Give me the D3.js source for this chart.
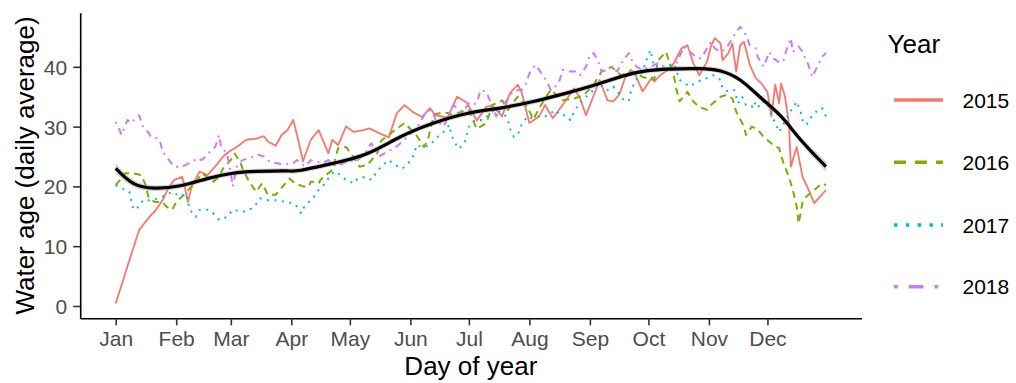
<!DOCTYPE html>
<html>
<head>
<meta charset="utf-8">
<script src="https://cdn.jsdelivr.net/npm/d3@7"></script>
<style>
  html, body { margin: 0; padding: 0; background: #fff; }
  svg { display: block; font-family: "Liberation Sans", Arial, sans-serif; }
</style>
</head>
<body>
<svg id="chart" width="1016" height="383"></svg>
<script>
// Daily-average water age by day of year, one series per year
const monthTickDays = [1, 32, 60, 91, 121, 152, 182, 213, 244, 274, 305, 335];
const monthTickLabels = ["Jan", "Feb", "Mar", "Apr", "May", "Jun", "Jul", "Aug", "Sep", "Oct", "Nov", "Dec"];
const yTicks = [0, 10, 20, 30, 40];
const years = ["2015", "2016", "2017", "2018"];

const days2015 = [1, 7, 13, 19, 21, 25, 28, 31, 35, 36, 38, 40, 44, 48, 52, 56, 59, 63, 68, 73, 77, 79, 83, 86, 89, 92, 94, 97, 101, 105, 110, 112, 115, 119, 123, 128, 131, 136, 141, 145, 149, 153, 158, 162, 165, 171, 176, 181, 186, 191, 194, 199, 203, 207, 209, 213, 218, 221, 225, 230, 236, 239, 242, 245, 249, 253, 256, 259, 262, 265, 267, 271, 276, 277, 280, 285, 287, 291, 294, 297, 300, 304, 306, 308, 311, 312, 315, 317, 319, 321, 323, 326, 329, 332, 335, 337, 339, 341, 342, 344, 346, 347, 350, 353, 355, 359, 362, 365];
const age2015 = [0.4, 6.6, 12.7, 15.2, 15.8, 17.7, 19.7, 21.1, 21.6, 20.5, 17.4, 20.0, 22.5, 21.9, 23.3, 25.0, 25.8, 26.6, 27.8, 28.0, 28.4, 27.5, 26.8, 28.6, 29.4, 31.1, 28.5, 24.2, 27.8, 29.4, 25.5, 27.8, 26.9, 30.0, 29.1, 29.4, 29.7, 28.9, 28.2, 32.2, 33.6, 32.5, 31.6, 33.1, 31.9, 31.5, 35.0, 34.0, 31.0, 33.3, 33.6, 31.7, 35.6, 37.0, 35.8, 30.6, 31.7, 33.6, 31.4, 33.6, 36.4, 34.7, 31.9, 34.4, 37.8, 34.4, 34.2, 35.3, 38.1, 39.5, 38.9, 35.9, 38.3, 37.5, 38.6, 39.7, 40.6, 43.1, 43.6, 40.6, 38.6, 40.8, 43.4, 44.8, 43.9, 41.1, 42.3, 43.9, 39.2, 43.6, 44.2, 40.3, 38.1, 37.2, 35.8, 31.7, 37.0, 33.9, 37.2, 35.0, 30.6, 23.3, 26.6, 21.6, 20.2, 17.2, 18.3, 19.4];

const days2016 = [1, 6, 10, 14, 16, 18, 21, 25, 27, 30, 32, 36, 39, 43, 45, 48, 51, 54, 56, 60, 62, 65, 66, 69, 73, 76, 79, 83, 88, 90, 93, 97, 100, 101, 105, 106, 109, 112, 115, 119, 122, 126, 130, 135, 137, 140, 144, 149, 155, 159, 161, 164, 166, 171, 173, 182, 186, 191, 194, 199, 202, 207, 212, 215, 219, 224, 230, 236, 241, 246, 250, 255, 260, 266, 271, 277, 279, 283, 287, 288, 290, 294, 297, 300, 304, 306, 311, 314, 317, 319, 323, 324, 327, 330, 333, 338, 341, 343, 346, 348, 350, 351, 353, 355, 359, 363, 365];
const age2016 = [20.2, 22.2, 22.2, 21.9, 20.5, 18.0, 17.4, 17.4, 16.6, 16.1, 17.4, 18.6, 19.7, 21.1, 22.2, 21.6, 20.8, 21.6, 23.0, 24.4, 25.5, 23.9, 23.0, 21.0, 19.1, 20.5, 18.6, 18.6, 20.5, 21.3, 20.5, 20.0, 20.0, 20.8, 20.5, 21.1, 22.0, 22.7, 26.4, 26.6, 25.3, 23.3, 23.6, 25.5, 27.6, 28.4, 29.4, 30.6, 28.6, 26.6, 27.8, 31.9, 32.2, 32.3, 32.0, 32.8, 29.6, 30.6, 33.6, 34.4, 32.8, 35.0, 33.3, 31.2, 33.6, 36.2, 34.4, 34.7, 35.3, 37.0, 39.2, 40.0, 38.6, 39.2, 38.3, 37.8, 41.1, 42.5, 38.6, 36.7, 34.2, 35.8, 34.2, 33.3, 32.8, 33.6, 35.0, 35.3, 34.7, 32.5, 30.0, 28.6, 30.0, 29.5, 28.3, 26.9, 26.4, 24.1, 21.6, 19.4, 16.6, 13.8, 17.4, 18.3, 19.4, 20.5, 20.2];

const days2017 = [1, 4, 8, 10, 13, 15, 20, 25, 30, 34, 37, 39, 42, 44, 48, 51, 54, 58, 61, 65, 68, 72, 75, 78, 83, 86, 89, 93, 96, 97, 100, 102, 105, 107, 110, 113, 116, 119, 123, 125, 129, 132, 135, 137, 141, 144, 148, 151, 154, 155, 159, 162, 166, 169, 172, 173, 175, 177, 180, 182, 185, 189, 192, 195, 200, 202, 203, 205, 207, 209, 212, 214, 218, 221, 224, 226, 229, 232, 234, 236, 238, 241, 245, 247, 251, 253, 256, 259, 262, 264, 265, 267, 271, 273, 275, 277, 280, 283, 287, 290, 293, 295, 299, 304, 307, 311, 312, 313, 316, 318, 320, 322, 324, 327, 328, 330, 332, 335, 337, 339, 341, 343, 346, 349, 350, 352, 353, 355, 357, 360, 363, 365];
const age2017 = [20.2, 19.7, 19.1, 16.1, 16.6, 17.7, 17.7, 18.3, 19.1, 18.3, 18.8, 16.1, 14.9, 16.1, 16.1, 15.5, 14.4, 14.9, 16.1, 15.8, 15.8, 16.6, 18.0, 17.7, 17.7, 17.5, 17.4, 17.0, 15.5, 16.3, 17.4, 18.0, 19.4, 20.0, 21.3, 22.5, 21.9, 21.1, 20.5, 21.3, 21.6, 21.1, 22.5, 23.3, 24.4, 23.6, 23.0, 23.9, 25.3, 26.9, 26.6, 26.9, 28.3, 29.1, 30.3, 28.6, 27.2, 26.3, 27.5, 30.0, 31.1, 31.1, 31.9, 32.8, 32.2, 31.1, 29.7, 28.3, 28.6, 30.3, 31.7, 31.4, 31.7, 31.7, 32.2, 32.8, 31.9, 31.9, 31.1, 32.5, 33.6, 34.7, 35.8, 37.2, 36.7, 36.1, 36.7, 35.5, 34.2, 34.4, 35.8, 37.5, 39.2, 41.1, 42.8, 40.0, 39.5, 40.0, 40.6, 37.8, 37.2, 36.7, 37.5, 38.1, 38.6, 37.8, 36.4, 36.1, 35.8, 36.1, 33.9, 35.0, 33.6, 33.3, 34.2, 33.1, 34.2, 33.9, 31.9, 30.6, 29.1, 30.3, 32.2, 33.6, 34.2, 32.5, 31.1, 30.3, 31.4, 32.5, 33.1, 31.7];

const days2018 = [1, 3, 4, 7, 9, 12, 13, 15, 18, 19, 23, 24, 25, 27, 29, 31, 35, 37, 40, 43, 45, 48, 50, 52, 54, 55, 58, 60, 61, 63, 66, 69, 72, 74, 77, 80, 83, 87, 92, 94, 98, 101, 104, 107, 110, 114, 119, 121, 124, 127, 130, 132, 135, 136, 140, 144, 149, 154, 157, 160, 163, 165, 169, 171, 174, 177, 179, 182, 183, 186, 188, 191, 194, 196, 199, 201, 203, 206, 209, 211, 213, 216, 218, 222, 224, 228, 230, 233, 237, 239, 242, 244, 246, 248, 250, 253, 255, 258, 261, 264, 265, 268, 271, 275, 279, 284, 287, 291, 292, 296, 298, 301, 303, 306, 308, 311, 314, 318, 321, 324, 326, 329, 330, 333, 336, 338, 341, 343, 345, 347, 348, 351, 353, 356, 358, 360, 363, 365];
const age2018 = [30.8, 29.4, 28.6, 31.1, 30.6, 31.7, 31.9, 30.0, 28.9, 28.3, 28.0, 27.2, 25.8, 25.0, 24.1, 23.3, 23.3, 23.6, 24.1, 24.7, 24.4, 25.3, 26.1, 26.6, 28.6, 26.6, 25.5, 22.2, 20.0, 23.3, 24.4, 24.7, 25.0, 25.3, 25.0, 24.1, 23.9, 23.7, 23.9, 24.4, 23.3, 24.4, 24.1, 23.9, 24.4, 23.3, 24.1, 24.4, 24.1, 25.0, 26.1, 27.2, 25.5, 25.0, 25.8, 26.4, 27.8, 29.4, 30.6, 32.5, 32.8, 31.1, 30.0, 31.4, 33.6, 32.8, 32.5, 33.9, 33.6, 33.9, 36.1, 35.8, 33.3, 31.7, 33.6, 34.2, 35.3, 36.1, 36.1, 37.0, 38.9, 40.3, 39.5, 37.5, 36.1, 37.2, 39.5, 39.2, 39.2, 38.6, 40.0, 42.0, 42.3, 41.1, 39.2, 39.5, 40.0, 39.2, 41.1, 42.3, 41.4, 40.0, 39.5, 40.0, 40.6, 39.7, 39.5, 42.5, 43.4, 42.3, 41.7, 41.4, 42.5, 44.2, 43.1, 42.5, 43.1, 45.3, 46.7, 45.3, 43.6, 43.1, 41.7, 40.0, 42.5, 41.4, 40.8, 40.8, 43.1, 44.8, 42.5, 43.4, 42.5, 40.3, 38.3, 39.7, 41.7, 42.3];

// Smoothed trend across all years, with its standard error band
const smoothDays = [1, 10, 21, 34, 48, 61, 73, 88, 96, 113, 130, 147, 164, 181, 198, 215, 232, 249, 266, 283, 300, 311, 321, 331, 342, 352, 365];
const smoothAge = [23.0, 20.5, 19.7, 20.1, 21.3, 22.2, 22.5, 22.6, 22.7, 23.9, 25.5, 28.3, 30.6, 32.2, 33.1, 34.2, 35.6, 37.2, 38.9, 39.6, 39.7, 39.3, 37.8, 35.0, 31.7, 27.8, 23.3];
const smoothSe = [0.9, 0.6, 0.5, 0.45, 0.45, 0.45, 0.45, 0.45, 0.45, 0.45, 0.45, 0.45, 0.45, 0.45, 0.45, 0.45, 0.45, 0.45, 0.45, 0.45, 0.45, 0.45, 0.45, 0.5, 0.5, 0.6, 0.9];

const seriesDays = { "2015": days2015, "2016": days2016, "2017": days2017, "2018": days2018 };
const seriesAge = { "2015": age2015, "2016": age2016, "2017": age2017, "2018": age2018 };
const colors = { "2015": "#F8766D", "2016": "#7CAE00", "2017": "#00BFC4", "2018": "#C77CFF" };
const dashPlot = { "2015": null, "2016": "7,5", "2017": "2,5.5", "2018": "2,5,7,5" };
const dashKey = { "2015": null, "2016": "12,9", "2017": "3.5,8.3", "2018": "3.7,11,14.8,11" };

const svg = d3.select("#chart");
const panel = { left: 80.2, right: 861.5, top: 12.7, bottom: 318.3 };

const x = d3.scaleLinear().domain([1 - 18.2, 365 + 18.2]).range([panel.left, panel.right]);
const y = d3.scaleLinear().domain([-2.06, 49.05]).range([panel.bottom, panel.top]);

// Year lines
const line = d3.line().x(d => x(d[0])).y(d => y(d[1]));
years.forEach(yr => {
  const pts = seriesDays[yr].map((d, i) => [d, seriesAge[yr][i]]);
  svg.append("path")
    .attr("d", line(pts))
    .attr("fill", "none")
    .attr("stroke", colors[yr])
    .attr("stroke-width", yr === "2015" ? 1.8 : 2)
    .attr("stroke-linejoin", "round")
    .attr("stroke-dasharray", dashPlot[yr]);
});

// Smoothed trend with confidence band
const smoothPts = smoothDays.map((d, i) => ({ d, v: smoothAge[i], se: smoothSe[i] }));
svg.append("path")
  .attr("d", d3.area().curve(d3.curveNatural)
    .x(p => x(p.d)).y0(p => y(p.v - p.se)).y1(p => y(p.v + p.se))(smoothPts))
  .attr("fill", "#999999").attr("fill-opacity", 0.4);
svg.append("path")
  .attr("d", d3.line().curve(d3.curveNatural).x(p => x(p.d)).y(p => y(p.v))(smoothPts))
  .attr("fill", "none").attr("stroke", "#000").attr("stroke-width", 3.2);

// Axes
const xAxis = svg.append("g").attr("transform", `translate(0,${panel.bottom})`)
  .call(d3.axisBottom(x).tickValues(monthTickDays).tickFormat((d, i) => monthTickLabels[i]).tickSize(7).tickSizeOuter(0).tickPadding(6));
const yAxis = svg.append("g").attr("transform", `translate(${panel.left},0)`)
  .call(d3.axisLeft(y).tickValues(yTicks).tickSize(7).tickSizeOuter(0).tickPadding(6));

[xAxis, yAxis].forEach(g => {
  g.select(".domain").attr("stroke", "#000").attr("stroke-width", 1.6);
  g.selectAll(".tick line").attr("stroke", "#333").attr("stroke-width", 1.6);
  g.selectAll(".tick text").attr("fill", "#4D4D4D").style("font-size", "21px")
    .style("font-family", '"Liberation Sans", Arial, sans-serif');
});
xAxis.selectAll(".tick text").attr("dy", null).attr("y", 27.4);
yAxis.selectAll(".tick text").attr("dy", "0.36em");

// Axis titles
svg.append("text")
  .attr("x", (panel.left + panel.right) / 2).attr("y", 375)
  .attr("text-anchor", "middle").style("font-size", "26px").attr("fill", "#000")
  .text("Day of year");
svg.append("text")
  .attr("transform", `translate(33.5,${(panel.top + panel.bottom) / 2}) rotate(-90)`)
  .attr("text-anchor", "middle").style("font-size", "26px").attr("fill", "#000")
  .text("Water age (daily average)");

// Legend
const legend = svg.append("g");
legend.append("text").attr("x", 887.5).attr("y", 53.3)
  .style("font-size", "26px").attr("fill", "#000").text("Year");
const keyY = [100, 162.3, 225, 286.7];
years.forEach((yr, i) => {
  legend.append("line")
    .attr("x1", 894).attr("x2", 943).attr("y1", keyY[i]).attr("y2", keyY[i])
    .attr("stroke", colors[yr]).attr("stroke-width", 3.4)
    .attr("stroke-dasharray", dashKey[yr]);
  legend.append("text").attr("x", 962.5).attr("y", keyY[i] + 7.6)
    .style("font-size", "21px").attr("fill", "#000").text(yr);
});
</script>
</body>
</html>
